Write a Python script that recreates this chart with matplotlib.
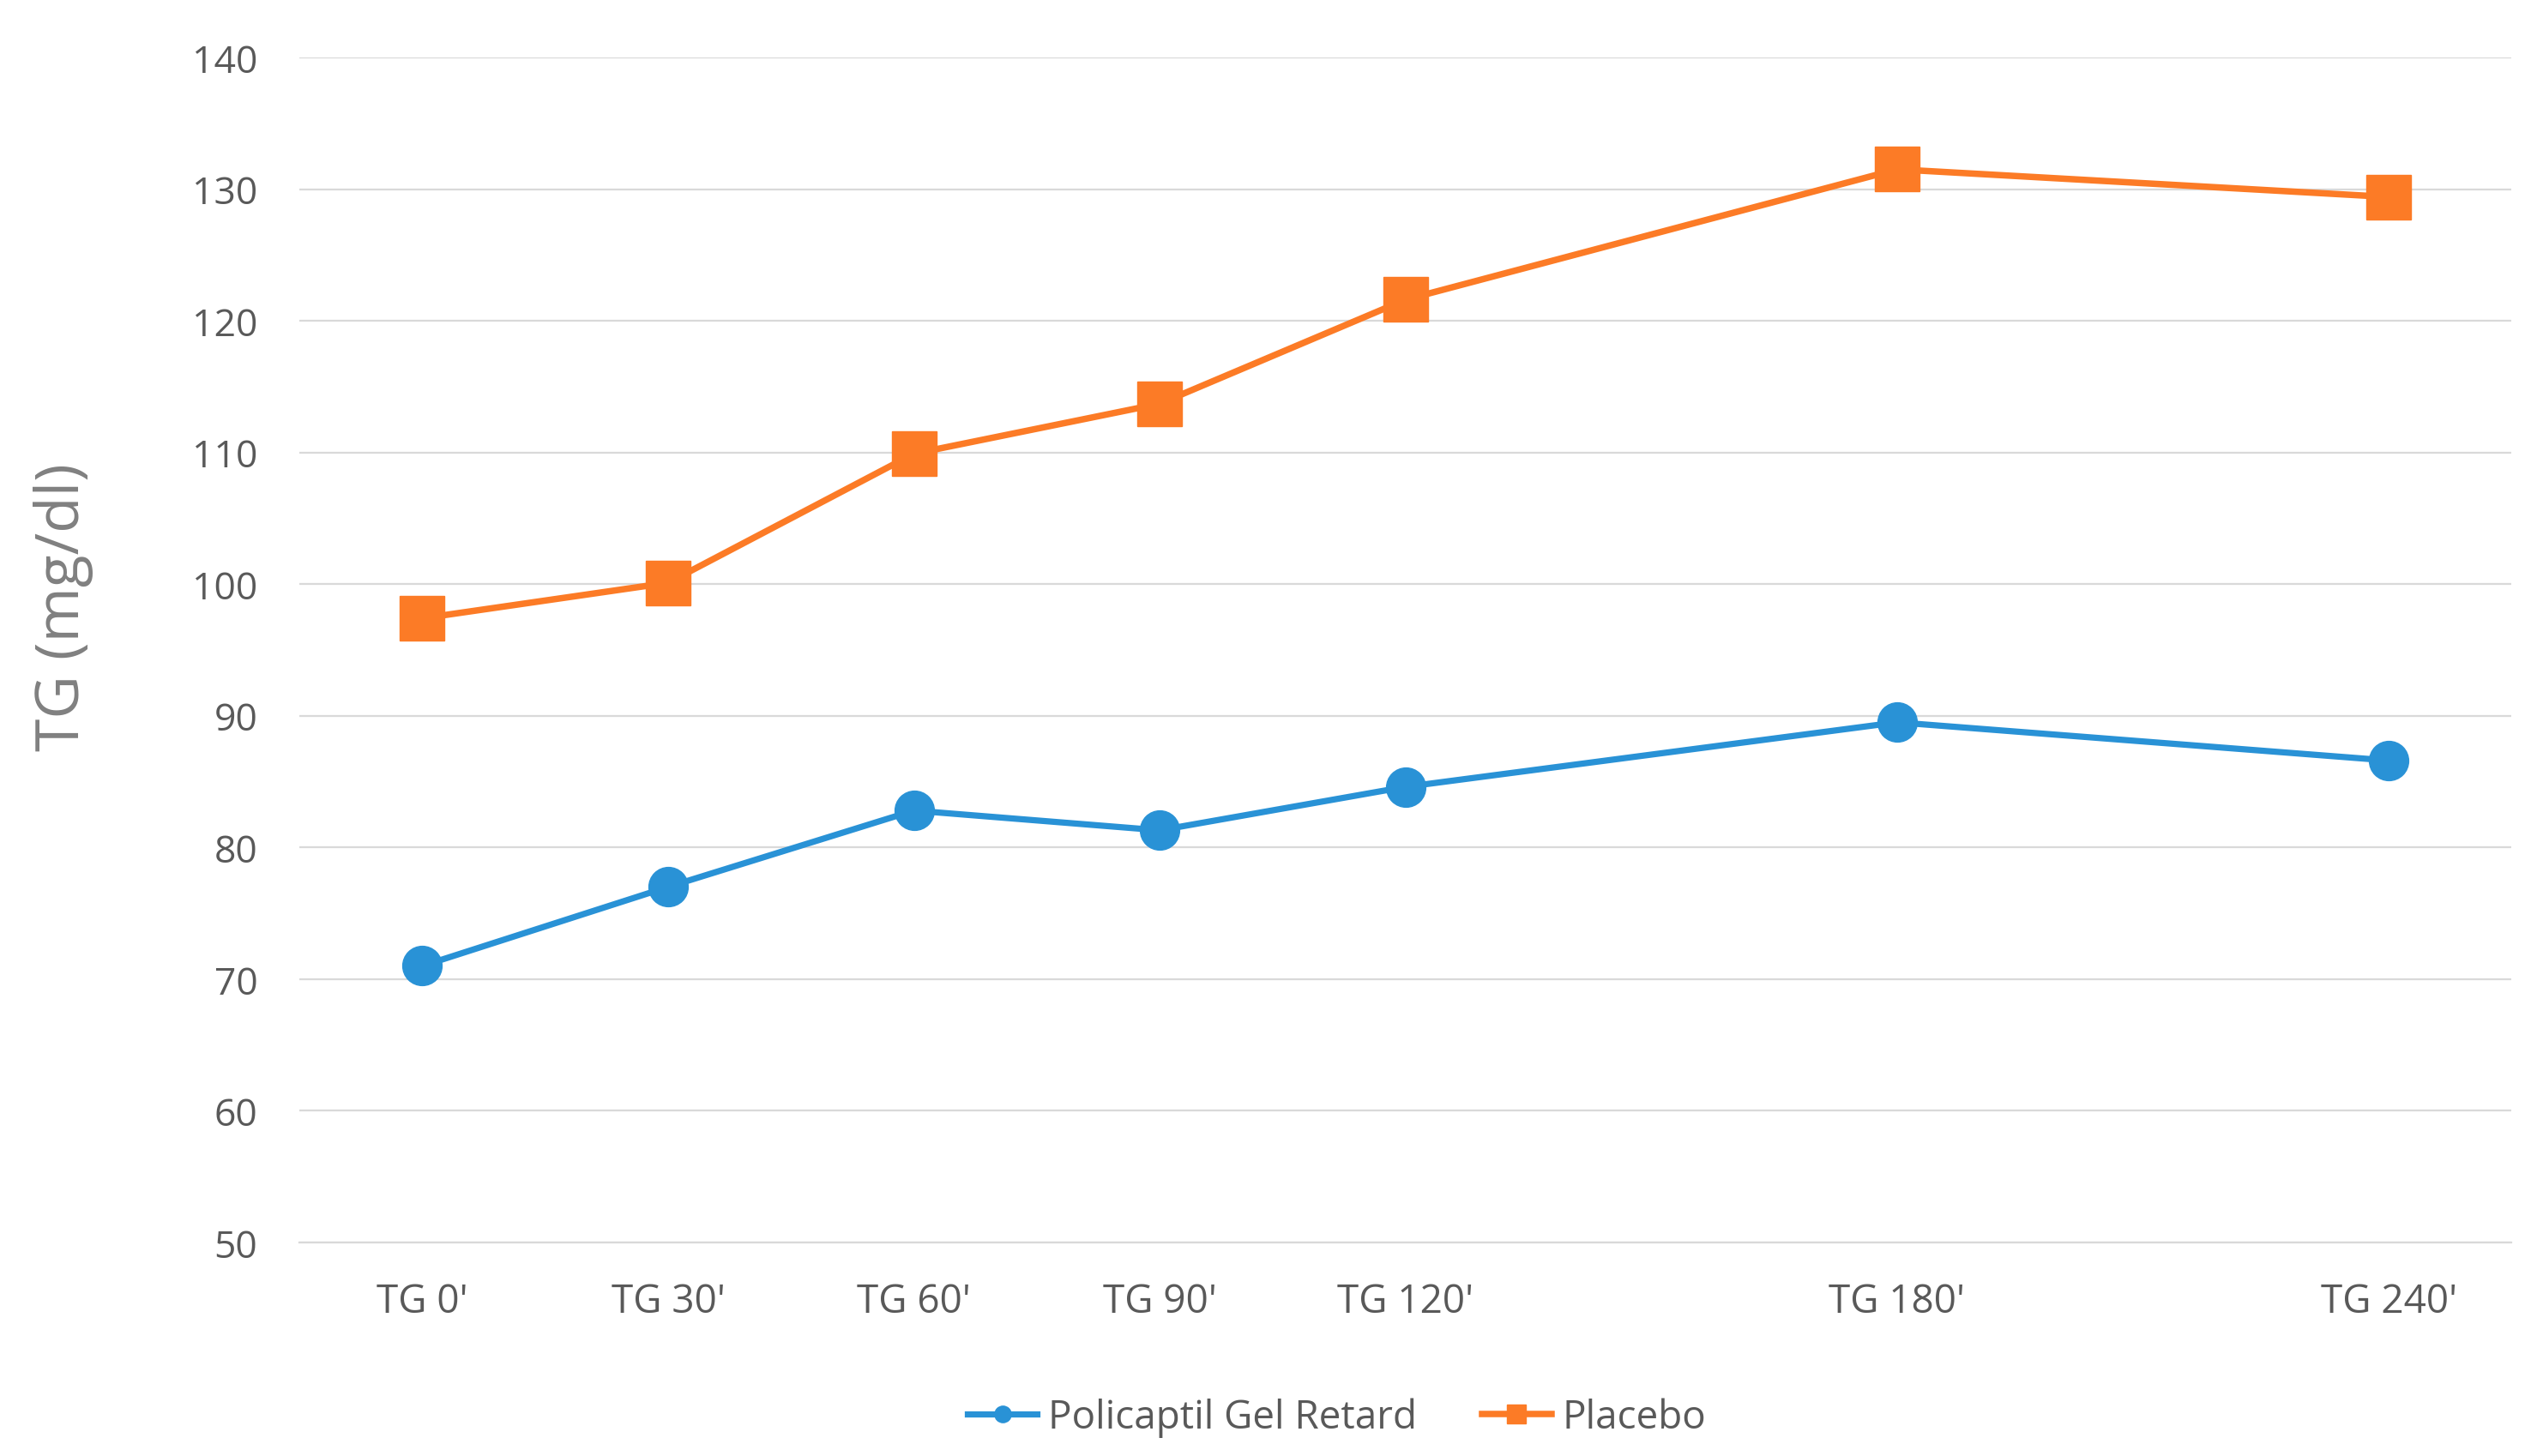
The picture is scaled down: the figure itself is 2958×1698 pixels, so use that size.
import matplotlib
matplotlib.use("Agg")
import matplotlib.pyplot as plt

# minutes after load, plotted on a time axis (Excel date-style spacing)
minutes = [0, 30, 60, 90, 120, 180, 240]
tick_labels = ["TG 0'", "TG 30'", "TG 60'", "TG 90'", "TG 120'", "TG 180'", "TG 240'"]
policaptil = [71.0, 77.0, 82.8, 81.3, 84.6, 89.5, 86.6]
placebo = [97.4, 100.1, 109.9, 113.7, 121.6, 131.5, 129.4]

BLUE = "#2992D6"
ORANGE = "#FC7B26"
GRID = "#D9D9D9"
TEXT = "#595959"

plt.rcParams["font.family"] = ["Open Sans", "DejaVu Sans"]

fig = plt.figure(figsize=(29.58, 16.99), dpi=100)
ax = fig.add_axes([0.118, 0.1466, 0.872, 0.8134])

ax.plot(minutes, policaptil, color=BLUE, lw=5.2, marker="o", ms=33,
        markeredgecolor=BLUE, label="Policaptil Gel Retard", zorder=3)
ax.plot(minutes, placebo, color=ORANGE, lw=5.4, marker="s", ms=37,
        markeredgecolor=ORANGE, label="Placebo", zorder=3)

ax.set_xlim(-15, 255)
ax.set_ylim(50, 140)
ax.set_yticks(range(50, 141, 10))
ax.set_xticks(minutes)
ax.set_xticklabels(tick_labels)
ax.tick_params(axis="y", labelsize=32, colors=TEXT, pad=35, length=0)
ax.tick_params(axis="x", labelsize=33, colors=TEXT, pad=33, length=0)
ax.yaxis.grid(True, color=GRID, lw=1.6)
ax.set_axisbelow(True)
for s in ["top", "right", "left"]:
    ax.spines[s].set_visible(False)
ax.spines["bottom"].set_color(GRID)
ax.spines["bottom"].set_linewidth(1.6)

fig.text(0.025, 0.583, "TG (mg/dl)", rotation=90, ha="center", va="center",
         fontsize=50, color="#808080")

leg = fig.legend(loc="center", bbox_to_anchor=(0.527, 0.0265), ncol=2,
                 frameon=False, fontsize=33, markerscale=0.42,
                 handlelength=1.77, columnspacing=1.65, handletextpad=0.28)
for t in leg.get_texts():
    t.set_color(TEXT)

fig.savefig("out.png", dpi=100)
